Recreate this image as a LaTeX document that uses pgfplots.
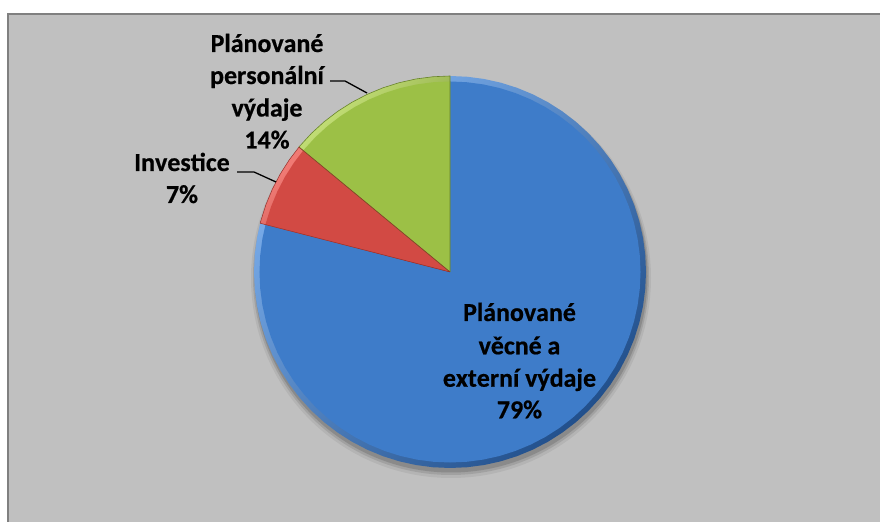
\documentclass[border=0pt]{standalone}
\usepackage{pgfplots}
\pgfplotsset{compat=1.18}
\usepackage{pgfplotstable}
\usepgfplotslibrary{polar}
\usepackage{fontspec}
\setmainfont{Carlito}
\newfontfamily\lblfont{Carlito Bold}[FakeBold=0.6, Kerning=Off]

\definecolor{bg}{HTML}{C0C0C0}
\definecolor{frame}{HTML}{808080}
\definecolor{bluemain}{HTML}{3E7CC9}
\definecolor{bluelight}{HTML}{7DB0EE}
\definecolor{bluedark}{HTML}{22508C}
\definecolor{redmain}{HTML}{D24A44}
\definecolor{redlight}{HTML}{F07A74}
\definecolor{reddark}{HTML}{96302B}
\definecolor{greenmain}{HTML}{9CC046}
\definecolor{greenlight}{HTML}{C8E47A}
\definecolor{greendark}{HTML}{68832A}

% shares: vecne a externi vydaje 79, investice 7, personalni vydaje 14
% wedges start at 90 deg and run clockwise, 1% = 3.6 deg
% angle (deg) / radius
\pgfplotstableread[row sep=\\]{
a r \\
0 0 \\
90 1 \\ 95 1 \\ 100 1 \\ 105 1 \\ 110 1 \\ 115 1 \\ 120 1 \\
125 1 \\ 130 1 \\ 135 1 \\ 140 1 \\ 140.4 1 \\
0 0 \\
}\personal
\pgfplotstableread[row sep=\\]{
a r \\
0 0 \\
140.4 1 \\ 145 1 \\ 150 1 \\ 155 1 \\ 160 1 \\ 165 1 \\ 165.6 1 \\
0 0 \\
}\invest
\pgfplotstableread[row sep=\\]{
a r \\
0 0 \\
165.6 1 \\ 170 1 \\ 175 1 \\ 180 1 \\ 185 1 \\ 190 1 \\ 195 1 \\ 200 1 \\
205 1 \\ 210 1 \\ 215 1 \\ 220 1 \\ 225 1 \\ 230 1 \\ 235 1 \\ 240 1 \\
245 1 \\ 250 1 \\ 255 1 \\ 260 1 \\ 265 1 \\ 270 1 \\ 275 1 \\ 280 1 \\
285 1 \\ 290 1 \\ 295 1 \\ 300 1 \\ 305 1 \\ 310 1 \\ 315 1 \\ 320 1 \\
325 1 \\ 330 1 \\ 335 1 \\ 340 1 \\ 345 1 \\ 350 1 \\ 355 1 \\ 360 1 \\
365 1 \\ 370 1 \\ 375 1 \\ 380 1 \\ 385 1 \\ 390 1 \\ 395 1 \\ 400 1 \\
405 1 \\ 410 1 \\ 415 1 \\ 420 1 \\ 425 1 \\ 430 1 \\ 435 1 \\ 440 1 \\
445 1 \\ 450 1 \\
0 0 \\
}\vecne

\pgfplotsset{
  rim/.style n args={2}{draw=none, top color=#1, bottom color=#2, shading angle=45},
}

\begin{document}
\begin{tikzpicture}
\begin{scope}[x=1bp,y=1bp]
  \path[use as bounding box] (0,0) rectangle (880,522);
  \fill[white] (0,0) rectangle (880,522);
  \fill[bg] (8,0) rectangle (880,508);
  \draw[frame, line width=2bp] (8,0) -- (8,508) -- (881,508);
  % soft shadow under the pie
  \fill[black, opacity=0.06] (451,244) circle (200);
  \fill[black, opacity=0.10] (451,245) circle (198);
  \fill[black, opacity=0.14] (451,246) circle (196.5);
\end{scope}

\begin{polaraxis}[
    at={(450bp,250bp)}, anchor=center,
    width=392bp, height=392bp, scale only axis,
    hide axis, clip=false,
    xmin=0, xmax=360, ymin=0, ymax=1,
  ]
  \addplot[rim={bluelight}{bluedark}] table[x=a, y=r] {\vecne};
  \addplot[fill=bluemain, draw=none] table[x=a, y expr=0.972*\thisrow{r}] {\vecne};
  \addplot[rim={redlight}{reddark}] table[x=a, y=r] {\invest};
  \addplot[fill=redmain, draw=none] table[x=a, y expr=0.972*\thisrow{r}] {\invest};
  \addplot[rim={greenlight}{greendark}] table[x=a, y=r] {\personal};
  \addplot[fill=greenmain, draw=none] table[x=a, y expr=0.972*\thisrow{r}] {\personal};
  % thin dark seams between the wedges
  \addplot[draw=greendark, line width=0.6pt, fill=none] table[x=a, y=r] {\personal};
  \addplot[draw=reddark, line width=0.5pt, fill=none] table[x=a, y=r] {\invest};
\end{polaraxis}

\begin{scope}[x=1bp,y=1bp, every node/.style={anchor=base, inner sep=0pt,
    font=\lblfont\fontsize{26}{32}\selectfont}]
  % labels, placed by baseline (y = 522 - pixel row)
  \node at (267,470) {Plánované};
  \node at (267,438) {personální};
  \node at (267,405.5) {výdaje};
  \node at (267,373.5) {14\%};
  \node at (182,351) {Investice};
  \node at (182,319) {7\%};
  \node at (519.5,201) {Plánované};
  \node at (519.5,167.7) {věcné a};
  \node at (519.5,135.3) {externí výdaje};
  \node at (519.5,103.7) {79\%};
  % leader lines
  \draw[black, line width=1.3bp] (330,441) -- (345,441) -- (367,429);
  \draw[black, line width=1.3bp] (237,350) -- (254,350) -- (276,340);
\end{scope}
\end{tikzpicture}
\end{document}
